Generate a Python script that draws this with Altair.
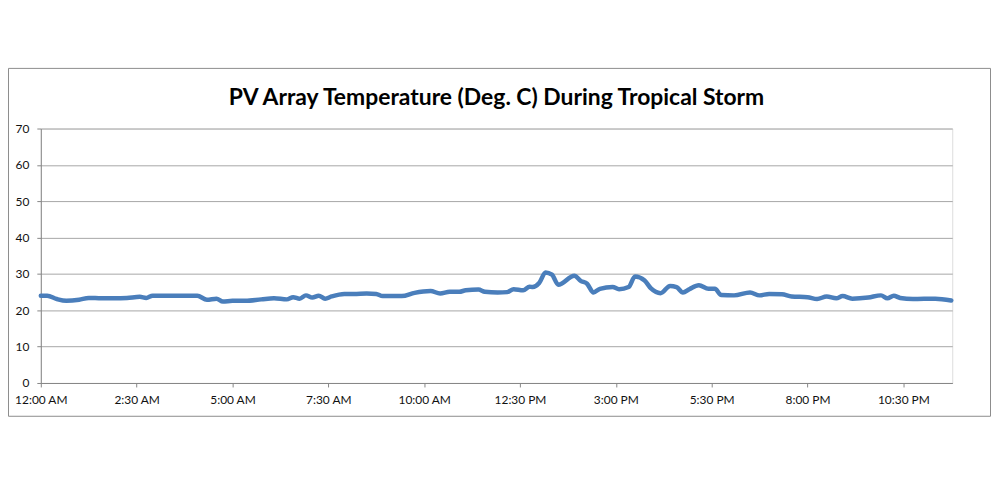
import altair as alt
import pandas as pd

times = ["00:00", "00:10", "00:25", "00:40", "01:00", "01:15", "01:35", "01:55", "02:15", "02:35",
         "02:45", "02:55", "03:20", "03:45", "04:05", "04:20", "04:35", "04:45", "05:00", "05:20",
         "05:45", "06:05", "06:25", "06:35", "06:45", "06:55", "07:05", "07:15", "07:25", "07:35",
         "07:55", "08:10", "08:30", "08:45", "08:55", "09:25", "09:45", "10:10", "10:25", "10:40",
         "10:55", "11:05", "11:25", "11:35", "11:55", "12:10", "12:20", "12:35", "12:45", "12:50",
         "13:00", "13:10", "13:20", "13:30", "13:55", "14:05", "14:15", "14:25", "14:35", "14:55",
         "15:05", "15:20", "15:30", "15:45", "15:55", "16:10", "16:25", "16:35", "16:45", "16:55",
         "17:10", "17:25", "17:35", "17:45", "18:05", "18:30", "18:45", "19:00", "19:20", "19:35",
         "20:00", "20:15", "20:30", "20:45", "20:55", "21:10", "21:35", "21:55", "22:05", "22:15",
         "22:25", "22:45", "23:20", "23:45"]
temps = [24.0, 24.0, 23.1, 22.6, 22.9, 23.4, 23.3, 23.3, 23.4, 23.7,
         23.4, 24.0, 24.0, 24.0, 24.0, 22.9, 23.2, 22.4, 22.6, 22.6,
         23.0, 23.3, 23.0, 23.6, 23.2, 24.1, 23.5, 24.0, 23.2, 23.8,
         24.5, 24.5, 24.6, 24.5, 23.9, 23.9, 24.8, 25.3, 24.6, 25.1,
         25.1, 25.5, 25.7, 25.1, 24.9, 25.0, 25.8, 25.5, 26.5, 26.4,
         27.5, 30.4, 29.8, 27.0, 29.5, 28.1, 27.3, 24.9, 25.9, 26.4,
         25.8, 26.4, 29.3, 28.2, 26.0, 24.7, 26.7, 26.4, 24.9, 25.8,
         26.9, 25.9, 25.9, 24.2, 24.1, 24.9, 24.1, 24.5, 24.4, 23.8,
         23.6, 23.1, 23.8, 23.3, 23.9, 23.2, 23.5, 24.1, 23.3, 24.0,
         23.4, 23.1, 23.2, 22.7]
tick_times = ["00:00", "02:30", "05:00", "07:30", "10:00", "12:30", "15:00", "17:30", "20:00", "22:30"]
y_ticks = [0, 10, 20, 30, 40, 50, 60, 70]
title_text = "PV Array Temperature (Deg. C) During Tropical Storm"

DAY = "2012-01-01T"
df = pd.DataFrame({"time": [DAY + t + ":00" for t in times], "temp": temps})


def dt(t):
    h, m = t.split(":")
    return alt.DateTime(year=2012, month=1, date=1, hours=int(h), minutes=int(m))


FONT = "Lato"
GRID = "#A6A6A6"
DOMAIN = "#868686"
LABEL = "#111111"

line = alt.Chart(df).mark_line(
    color="#4A7EBB", strokeWidth=4.5, interpolate="monotone", strokeCap="round", strokeJoin="round"
).encode(
    x=alt.X(
        "time:T",
        scale=alt.Scale(domain=[DAY + "00:00:00", DAY + "23:46:30"]),
        axis=alt.Axis(
            title=None,
            values=[dt(t) for t in tick_times],
            format="%-I:%M %p",
            grid=False,
            tickSize=4,
            tickColor=DOMAIN,
            domainColor=DOMAIN,
            labelPadding=8,
            labelFlush=False,
            labelOverlap=False,
            labelFont=FONT,
            labelFontSize=12,
            labelColor=LABEL,
        ),
    ),
    y=alt.Y(
        "temp:Q",
        scale=alt.Scale(domain=[0, 70], nice=False),
        axis=alt.Axis(
            title=None,
            values=y_ticks,
            grid=True,
            gridColor=GRID,
            tickSize=4,
            tickColor=DOMAIN,
            domainColor=DOMAIN,
            labelPadding=8,
            labelFont=FONT,
            labelFontSize=12,
            labelColor=LABEL,
        ),
    ),
)

frame = alt.Chart(pd.DataFrame({"a": [0]})).mark_rect(
    fill=None, stroke="#8C8C8C", strokeWidth=1
).encode(
    x=alt.value(-32.5), x2=alt.value(955.5), y=alt.value(-60.5), y2=alt.value(289.5)
)

chart = alt.layer(frame, line).properties(
    width=917,
    height=256,
    padding={"left": 33, "top": 120, "right": 40, "bottom": 40},
    autosize=alt.AutoSizeParams(type="none"),
    title=alt.TitleParams(
        text=title_text,
        font=FONT,
        fontSize=23,
        fontWeight="bold",
        color="#000000",
        anchor="middle",
        offset=-42,
    ),
).configure_view(stroke=None).configure(background="white")

chart.save("out.html", embed_options={"renderer": "svg", "actions": False})
